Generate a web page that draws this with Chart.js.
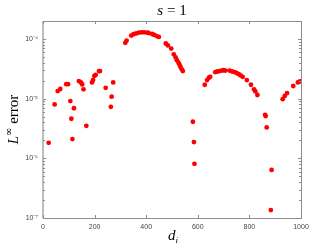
<!DOCTYPE html>
<html>
<head>
<meta charset="utf-8">
<script src="https://cdn.jsdelivr.net/npm/chart.js@4.4.0/dist/chart.umd.min.js"></script>
<style>
  html, body { margin: 0; padding: 0; background: #fff; }
  #wrap { width: 332px; height: 249px; }
</style>
</head>
<body>
<div id="wrap"><canvas id="myChart" width="332" height="249"></canvas></div>
<script>
// datos
const dValues = [22, 45, 57, 67, 90, 97, 106, 110, 114, 120, 139, 147, 152, 157, 168, 190, 194, 199, 204, 217, 221, 243, 263, 266, 272,
  319, 324, 342, 351, 361, 372, 382, 392, 403, 409, 423, 431, 441, 449, 476, 484, 497, 507, 514, 519, 525, 529, 533, 538, 542,
  581, 585, 587,
  627, 636, 643, 648, 668, 676, 684, 692, 699, 707, 723, 733, 743, 751, 759, 766, 774, 790, 806, 818, 823, 831,
  861, 863, 867, 886, 883,
  929, 937, 946, 970, 988, 996];
const errValues = [1.82e-6, 8.0e-6, 1.34e-5, 1.45e-5, 1.75e-5, 1.75e-5, 9.1e-6, 4.6e-6, 2.1e-6, 6.9e-6, 1.97e-5, 1.87e-5, 1.73e-5, 1.43e-5, 3.5e-6, 1.87e-5, 2.05e-5, 2.4e-5, 2.5e-5, 2.9e-5, 2.9e-5, 1.52e-5, 7.3e-6, 1.08e-5, 1.87e-5,
  8.6e-5, 9.4e-5, 1.14e-4, 1.2e-4, 1.24e-4, 1.28e-4, 1.29e-4, 1.29e-4, 1.28e-4, 1.26e-4, 1.21e-4, 1.17e-4, 1.12e-4, 1.08e-4, 8.4e-5, 7.8e-5, 6.9e-5, 5.5e-5, 4.9e-5, 4.4e-5, 4.0e-5, 3.7e-5, 3.4e-5, 3.1e-5, 2.9e-5,
  4.1e-6, 1.87e-6, 8.1e-7,
  1.71e-5, 2.05e-5, 2.24e-5, 2.32e-5, 2.78e-5, 2.85e-5, 2.9e-5, 2.95e-5, 2.99e-5, 2.95e-5, 2.95e-5, 2.85e-5, 2.78e-5, 2.68e-5, 2.57e-5, 2.45e-5, 2.32e-5, 2.05e-5, 1.71e-5, 1.43e-5, 1.32e-5, 1.15e-5,
  5.35e-6, 5.1e-6, 3.3e-6, 6.4e-7, 1.36e-7,
  9.8e-6, 1.11e-5, 1.24e-5, 1.63e-5, 1.87e-5, 1.95e-5];

const xTicks = [0, 200, 400, 600, 800, 1000];
const yTicks = [1e-7, 1e-6, 1e-5, 1e-4];
const supers = { '-': '⁻', '0': '⁰', '1': '¹', '2': '²', '3': '³', '4': '⁴', '5': '⁵', '6': '⁶', '7': '⁷', '8': '⁸', '9': '⁹' };

function powLabel(v) {
  const e = Math.round(Math.log10(v));
  return '10' + String(e).split('').map(c => supers[c]).join('');
}

// marcas hacia adentro y marco estilo matlab
const boxPlugin = {
  id: 'boxPlugin',
  afterDraw(chart) {
    const ctx = chart.ctx;
    const a = chart.chartArea;
    const xs = chart.scales.x;
    const ys = chart.scales.y;
    ctx.save();
    ctx.strokeStyle = '#8c8c8c';
    ctx.lineWidth = 1;
    ctx.strokeRect(Math.round(a.left) + 0.5, Math.round(a.top) + 0.5, Math.round(a.right - a.left), Math.round(a.bottom - a.top));
    ctx.strokeStyle = '#bdbdbd';
    ctx.lineWidth = 2;
    ctx.beginPath();
    ctx.moveTo(Math.round(a.left), a.top);
    ctx.lineTo(Math.round(a.left), a.bottom);
    ctx.stroke();
    ctx.strokeStyle = '#8c8c8c';
    ctx.lineWidth = 1;
    ctx.beginPath();
    xTicks.forEach(t => {
      const px = Math.round(xs.getPixelForValue(t)) + 0.5;
      ctx.moveTo(px, a.bottom); ctx.lineTo(px, a.bottom - 3);
      ctx.moveTo(px, a.top); ctx.lineTo(px, a.top + 3);
    });
    for (let e = -7; e <= -4; e++) {
      for (let m = 1; m <= 9; m++) {
        const v = m * Math.pow(10, e);
        if (v < ys.min * 0.999 || v > ys.max * 1.001) continue;
        const py = Math.round(ys.getPixelForValue(v)) + 0.5;
        const len = m === 1 ? 3 : 2;
        ctx.moveTo(a.left, py); ctx.lineTo(a.left + len, py);
        ctx.moveTo(a.right, py); ctx.lineTo(a.right - len, py);
      }
    }
    ctx.stroke();

    // titulo
    ctx.fillStyle = '#000';
    ctx.textBaseline = 'alphabetic';
    const cx = (a.left + a.right) / 2;
    ctx.font = 'italic 15px "Liberation Serif", serif';
    const w1 = ctx.measureText('s').width;
    ctx.font = '15px "Liberation Serif", serif';
    const rest = ' = 1';
    const w2 = ctx.measureText(rest).width;
    let x0 = cx - (w1 + w2) / 2;
    ctx.font = 'italic 15px "Liberation Serif", serif';
    ctx.fillText('s', x0, 15);
    ctx.font = '15px "Liberation Serif", serif';
    ctx.fillText(rest, x0 + w1, 15);

    // etiqueta x
    ctx.font = 'italic 15px "Liberation Serif", serif';
    const wd = ctx.measureText('d').width;
    ctx.fillText('d', cx - 4, 240);
    ctx.font = 'italic 9px "Liberation Serif", serif';
    ctx.fillText('i', cx - 4 + wd, 243);

    // etiqueta y
    ctx.translate(18, (a.top + a.bottom) / 2);
    ctx.rotate(-Math.PI / 2);
    ctx.font = 'italic 15px "Liberation Serif", serif';
    const wL = ctx.measureText('L').width;
    ctx.font = '10px "DejaVu Serif", serif';
    const wInf = ctx.measureText('∞').width;
    ctx.font = '15px "Liberation Serif", serif';
    const wErr = ctx.measureText(' error').width;
    let sx = -(wL + wInf + wErr) / 2;
    ctx.font = 'italic 15px "Liberation Serif", serif';
    ctx.fillText('L', sx, 0);
    ctx.font = '10px "DejaVu Serif", serif';
    ctx.fillText('∞', sx + wL, -6);
    ctx.font = '15px "Liberation Serif", serif';
    ctx.fillText(' error', sx + wL + wInf, 0);
    ctx.restore();
  }
};

const chartData = {
  datasets: [{
    label: 'error',
    data: dValues.map((d, i) => ({ x: d, y: errValues[i] })),
    backgroundColor: '#ff0000',
    borderWidth: 0,
    pointRadius: 2.4,
    pointHoverRadius: 2.4
  }]
};

const config = {
  type: 'scatter',
  data: chartData,
  options: {
    responsive: false,
    animation: false,
    events: [],
    layout: { padding: { top: 21, right: 31, left: 0, bottom: 0 } },
    plugins: { legend: { display: false }, tooltip: { enabled: false }, title: { display: false } },
    scales: {
      x: {
        type: 'linear',
        min: 0,
        max: 1000,
        afterBuildTicks: s => { s.ticks = xTicks.map(v => ({ value: v })); },
        afterFit: s => { s.height = 31; },
        grid: { display: false, drawTicks: false },
        border: { display: false },
        ticks: { color: '#444', font: { family: 'Liberation Sans', size: 7 }, padding: 5, maxRotation: 0, callback: v => String(v) }
      },
      y: {
        type: 'logarithmic',
        min: 1e-7,
        max: 2e-4,
        afterBuildTicks: s => { s.ticks = yTicks.map(v => ({ value: v })); },
        afterFit: s => { s.width = 43; },
        grid: { display: false, drawTicks: false },
        border: { display: false },
        ticks: { color: '#444', font: { family: 'Liberation Sans', size: 7 }, padding: 5, callback: v => powLabel(v) }
      }
    }
  },
  plugins: [boxPlugin]
};

var myChart = new Chart(document.getElementById('myChart'), config);
</script>
</body>
</html>
